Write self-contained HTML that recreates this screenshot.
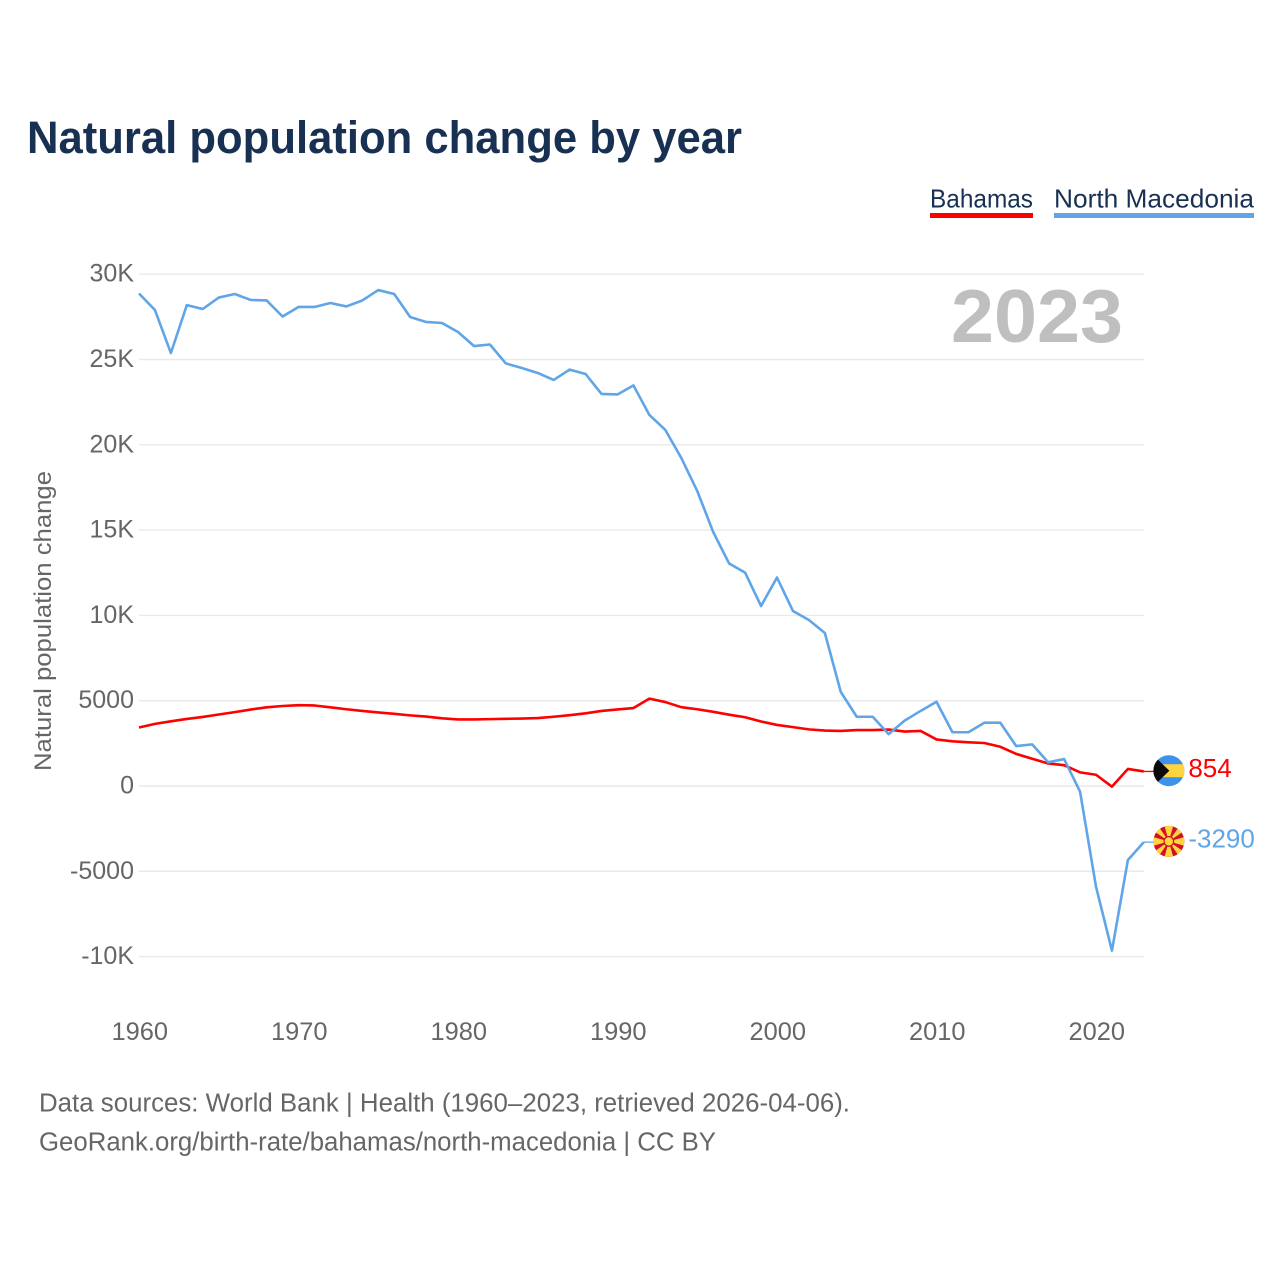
<!DOCTYPE html>
<html lang="en">
<head>
<meta charset="utf-8">
<title>Natural population change by year</title>
<style>
  html, body { margin: 0; padding: 0; background: #fff; }
  body { width: 1280px; height: 1280px; overflow: hidden; }
  svg { display: block; }
  text { font-family: "Liberation Sans", sans-serif; }
</style>
</head>
<body>
<svg id="chart" xmlns="http://www.w3.org/2000/svg" width="1280" height="1280" viewBox="0 0 1280 1280">
  <defs>
    <clipPath id="flag-clip"><circle cx="0" cy="0" r="15.5"></circle></clipPath>
  </defs>
  <text x="27" y="153" font-size="45" font-weight="700" fill="#183153" textLength="715" lengthAdjust="spacingAndGlyphs">Natural population change by year</text>

  <g>
    <g>
      <text x="930" y="207.5" font-size="26" fill="#183153" textLength="103" lengthAdjust="spacingAndGlyphs">Bahamas</text>
      <rect x="930" y="213" width="103" height="5" fill="#ff0000"></rect>
    </g>
    <g>
      <text x="1054" y="207.5" font-size="26" fill="#183153" textLength="200" lengthAdjust="spacingAndGlyphs">North Macedonia</text>
      <rect x="1054" y="213" width="200" height="5" fill="#60a5e8"></rect>
    </g>
  </g>

  <g id="grid"></g>
  <g id="y-axis"></g>
  <g id="x-axis"></g>

  <text transform="translate(51 771) rotate(-90)" x="0" y="0" font-size="24.5" fill="#666666" textLength="300" lengthAdjust="spacingAndGlyphs">Natural population change</text>

  <text x="951" y="342" font-size="75" font-weight="700" fill="#bfbfbf" textLength="172" lengthAdjust="spacingAndGlyphs">2023</text>

  <g id="series"></g>

  <g id="flag-bahamas">
    <g clip-path="url(#flag-clip)">
      <rect x="-16" y="-16" width="32" height="32" fill="#3d92ec"></rect>
      <rect x="-16" y="-6.5" width="32" height="13" fill="#ffd43f"></rect>
      <polygon points="-16,-16 0.5,0 -16,16" fill="#0a0a0a"></polygon>
    </g>
  </g>
  <g id="flag-macedonia">
    <g clip-path="url(#flag-clip)">
      <rect x="-16" y="-16" width="32" height="32" fill="#d20f26"></rect>
      <polygon points="-4.5,-16 4.5,-16 0,0" fill="#ffd43f"></polygon>
      <polygon points="-4.5,16 4.5,16 0,0" fill="#ffd43f"></polygon>
      <polygon points="-16,-4.5 -16,4.5 0,0" fill="#ffd43f"></polygon>
      <polygon points="16,-4.5 16,4.5 0,0" fill="#ffd43f"></polygon>
      <polygon points="-16,-11 -11,-16 0,0" fill="#ffd43f"></polygon>
      <polygon points="16,-11 11,-16 0,0" fill="#ffd43f"></polygon>
      <polygon points="-16,11 -11,16 0,0" fill="#ffd43f"></polygon>
      <polygon points="16,11 11,16 0,0" fill="#ffd43f"></polygon>
      <circle cx="0" cy="0" r="5.4" fill="#d20f26"></circle>
      <circle cx="0" cy="0" r="4.2" fill="#ffd43f"></circle>
    </g>
  </g>

  <g id="end-labels"></g>

  <text x="39" y="1111.5" font-size="25.5" fill="#666666" textLength="811" lengthAdjust="spacingAndGlyphs">Data sources: World Bank | Health (1960–2023, retrieved 2026-04-06).</text>
  <text x="39" y="1150.5" font-size="25.5" fill="#666666" textLength="677" lengthAdjust="spacingAndGlyphs">GeoRank.org/birth-rate/bahamas/north-macedonia | CC BY</text>
</svg>
<script>
const firstYear = 1960;
const bahamasValues = [3430,3640,3790,3930,4050,4190,4330,4480,4610,4690,4740,4720,4610,4500,4400,4310,4230,4140,4070,3970,3900,3900,3920,3940,3950,3980,4060,4150,4260,4400,4490,4570,5120,4920,4620,4500,4350,4180,4030,3780,3580,3450,3320,3250,3230,3280,3280,3310,3190,3230,2730,2620,2560,2520,2300,1880,1600,1320,1220,800,660,-40,1000,854];
const macedoniaValues = [28870,27900,25380,28190,27960,28630,28840,28490,28460,27520,28080,28080,28310,28110,28460,29070,28840,27490,27200,27140,26610,25790,25880,24770,24500,24210,23800,24410,24150,22980,22950,23480,21750,20870,19230,17290,14890,13040,12510,10550,12220,10260,9730,8970,5510,4060,4060,3040,3830,4400,4940,3150,3150,3710,3710,2340,2440,1390,1580,-330,-5900,-9650,-4340,-3290];
const yTickValues = [30000,25000,20000,15000,10000,5000,0,-5000,-10000];
const yTickLabels = ["30K","25K","20K","15K","10K","5000","0","-5000","-10K"];
const xTickYears = [1960,1970,1980,1990,2000,2010,2020];

const NS = 'http://www.w3.org/2000/svg';
const xScale = function (year) { return 139 + (year - 1960) * 15.95; };
const yScale = function (value) { return 786 - value * 0.01706; };

const gridGroup = document.getElementById('grid');
const yAxisGroup = document.getElementById('y-axis');
const xAxisGroup = document.getElementById('x-axis');
const seriesGroup = document.getElementById('series');
const labelGroup = document.getElementById('end-labels');

yTickValues.forEach(function (value, i) {
  const line = document.createElementNS(NS, 'line');
  
  
  line.setAttribute('x1', 139);
  line.setAttribute('x2', 1144);
  line.setAttribute('y1', yScale(value));
  line.setAttribute('y2', yScale(value));
  line.setAttribute('stroke', '#e9e9e9');
  line.setAttribute('stroke-width', '1.4');
  gridGroup.appendChild(line);

  const label = document.createElementNS(NS, 'text');
  
  
  label.setAttribute('x', 134);
  label.setAttribute('y', yScale(value) + 7.5);
  label.setAttribute('text-anchor', 'end');
  label.setAttribute('font-size', '25');
  label.setAttribute('fill', '#666666');
  label.textContent = yTickLabels[i];
  yAxisGroup.appendChild(label);
});

xTickYears.forEach(function (year) {
  const label = document.createElementNS(NS, 'text');
  
  
  label.setAttribute('x', xScale(year) + 0.7);
  label.setAttribute('y', 1040);
  label.setAttribute('text-anchor', 'middle');
  label.setAttribute('font-size', '25.4');
  label.setAttribute('fill', '#666666');
  label.textContent = String(year);
  xAxisGroup.appendChild(label);
});

function pointsFor(values) {
  return values.map(function (v, i) {
    return xScale(firstYear + i).toFixed(2) + ',' + yScale(v).toFixed(2);
  }).join(' ');
}

function drawSeries(values, color, name, flagId) {
  const lastIndex = values.length - 1;
  const lastValue = values[lastIndex];
  const lastX = xScale(firstYear + lastIndex);
  const lastY = yScale(lastValue);

  const line = document.createElementNS(NS, 'polyline');
  
  
  line.setAttribute('points', pointsFor(values));
  line.setAttribute('fill', 'none');
  line.setAttribute('stroke', color);
  line.setAttribute('stroke-width', '2.6');
  line.setAttribute('stroke-linejoin', 'round');
  seriesGroup.appendChild(line);

  const leader = document.createElementNS(NS, 'line');
  
  
  leader.setAttribute('x1', lastX);
  leader.setAttribute('x2', lastX + 12);
  leader.setAttribute('y1', lastY);
  leader.setAttribute('y2', lastY);
  leader.setAttribute('stroke', color);
  leader.setAttribute('stroke-width', '1.3');
  seriesGroup.appendChild(leader);

  document.getElementById(flagId).setAttribute('transform', 'translate(' + (lastX + 25) + ' ' + (lastY - 0.7) + ')');

  const label = document.createElementNS(NS, 'text');
  
  
  label.setAttribute('x', lastX + 44.5);
  label.setAttribute('y', lastY + 5.5);
  label.setAttribute('font-size', '26');
  label.setAttribute('fill', color);
  label.textContent = String(lastValue);
  labelGroup.appendChild(label);
}

drawSeries(bahamasValues, '#ff0000', 'bahamas', 'flag-bahamas');
drawSeries(macedoniaValues, '#60a5e8', 'north-macedonia', 'flag-macedonia');
</script>
</body>
</html>
